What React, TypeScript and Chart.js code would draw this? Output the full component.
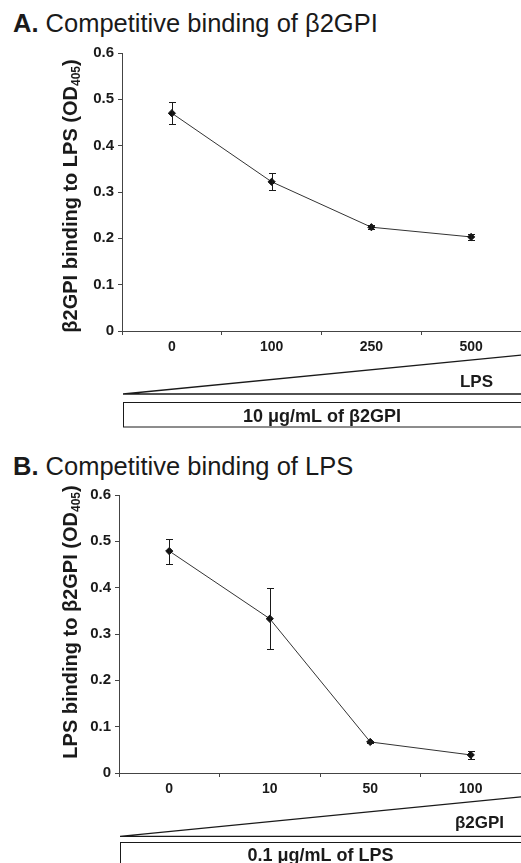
import React, { useEffect, useRef } from 'react';
import { Chart, registerables } from 'chart.js';
Chart.register(...registerables);

const FONT = '"Liberation Sans", Arial, Helvetica, sans-serif';

// Panel A: competitive binding of β2GPI (LPS added)
const catsA = ['0', '100', '250', '500'];
const valsA = [0.47, 0.322, 0.224, 0.203];
const errA = [0.024, 0.018, 0.004, 0.006];

// Panel B: competitive binding of LPS (β2GPI added)
const catsB = ['0', '10', '50', '100'];
const valsB = [0.479, 0.333, 0.067, 0.039];
const errB = [0.027, 0.066, 0.003, 0.009];

const yMin = 0;
const yMax = 0.6;
const yStep = 0.1;

const errorBarPlugin = {
  id: 'errorBars',
  afterDatasetsDraw(chart: any, _args: any, opts: any) {
    const { ctx } = chart;
    const meta = chart.getDatasetMeta(0);
    const ys = chart.scales.y;
    const errs: number[] = opts.errors || [];
    const data = chart.data.datasets[0].data as number[];
    ctx.save();
    ctx.strokeStyle = '#1a1a1a';
    ctx.lineWidth = 1;
    meta.data.forEach((pt: any, i: number) => {
      const v = data[i];
      const e = errs[i] || 0;
      const yTop = Math.round(ys.getPixelForValue(v + e)) + 0.5;
      const yBot = Math.round(ys.getPixelForValue(v - e)) + 0.5;
      const x = Math.round(pt.x) + 0.5;
      ctx.beginPath();
      ctx.moveTo(x, yTop);
      ctx.lineTo(x, yBot);
      ctx.moveTo(x - 3.5, yTop);
      ctx.lineTo(x + 3.5, yTop);
      ctx.moveTo(x - 3.5, yBot);
      ctx.lineTo(x + 3.5, yBot);
      ctx.stroke();
    });
    ctx.restore();
  },
};

const yTitlePlugin = {
  id: 'yTitleSub',
  afterDraw(chart: any, _args: any, opts: any) {
    const { ctx, chartArea } = chart;
    const cy = (chartArea.top + chartArea.bottom) / 2 + (opts.dy || 0);
    const x = opts.x;
    const mainFont = `bold ${opts.size}px ${FONT}`;
    const subFont = `bold ${Math.round(opts.size * 0.62)}px ${FONT}`;
    ctx.save();
    ctx.font = mainFont;
    const w1 = ctx.measureText(opts.main).width;
    const w3 = ctx.measureText(opts.end).width;
    ctx.font = subFont;
    const w2 = ctx.measureText(opts.sub).width;
    const total = w1 + w2 + w3;
    ctx.translate(x, cy);
    ctx.rotate(-Math.PI / 2);
    ctx.fillStyle = '#1a1a1a';
    ctx.textBaseline = 'middle';
    ctx.textAlign = 'left';
    let cx = -total / 2;
    ctx.font = mainFont;
    ctx.fillText(opts.main, cx, 0);
    cx += w1;
    ctx.font = subFont;
    ctx.fillText(opts.sub, cx, opts.size * 0.28);
    cx += w2;
    ctx.font = mainFont;
    ctx.fillText(opts.end, cx, 0);
    ctx.restore();
  },
};

const wedgePlugin = {
  id: 'wedge',
  afterDraw(chart: any, _args: any, o: any) {
    const { ctx, chartArea } = chart;
    const L = chartArea.left + 1;
    const R = chartArea.right;
    const B0 = chartArea.bottom;
    ctx.save();
    ctx.strokeStyle = '#1a1a1a';
    ctx.lineWidth = 1.3;
    ctx.beginPath();
    ctx.moveTo(L, B0 + o.base);
    ctx.lineTo(R + 2, B0 + o.tip);
    ctx.moveTo(L, B0 + o.base);
    ctx.lineTo(R + 2, B0 + o.base);
    ctx.stroke();
    ctx.fillStyle = '#1a1a1a';
    ctx.font = `bold 17px ${FONT}`;
    ctx.textAlign = 'right';
    ctx.textBaseline = 'alphabetic';
    ctx.fillText(o.label, R - o.labelRight, B0 + o.labelBase);
    ctx.lineWidth = 1;
    ctx.strokeRect(Math.round(L) + 0.5, Math.round(B0 + o.boxTop) + 0.5, R - L + 10, o.boxH);
    ctx.font = `bold 18px ${FONT}`;
    ctx.textAlign = 'center';
    ctx.fillText(o.boxText, (L + R) / 2, B0 + o.boxBase);
    ctx.restore();
  },
};

type PanelProps = {
  top: number;
  height: number;
  cats: string[];
  vals: number[];
  errs: number[];
  yWidth: number;
  xHeight: number;
  padTop: number;
  title: { main: string; sub: string; end: string; dy: number };
  wedge: any;
};

function Panel(p: PanelProps) {
  const ref = useRef<HTMLCanvasElement | null>(null);
  useEffect(() => {
    if (!ref.current) return;
    const chart = new Chart(ref.current, {
      type: 'line',
      data: {
        labels: p.cats,
        datasets: [
          {
            data: p.vals,
            borderColor: '#333333',
            borderWidth: 1,
            backgroundColor: '#111111',
            pointStyle: 'rectRot',
            pointRadius: 3.6,
            pointBackgroundColor: '#111111',
            pointBorderColor: '#111111',
            pointBorderWidth: 1,
            tension: 0,
            fill: false,
            clip: false,
          },
        ],
      },
      options: {
        responsive: false,
        animation: false,
        maintainAspectRatio: false,
        layout: { autoPadding: false, padding: { top: p.padTop, left: 0, right: 0, bottom: 0 } },
        plugins: {
          legend: { display: false },
          tooltip: { enabled: false },
          errorBars: { errors: p.errs },
          yTitleSub: { x: 71, size: 20, main: p.title.main, sub: p.title.sub, end: p.title.end, dy: p.title.dy },
          wedge: p.wedge,
        } as any,
        scales: {
          x: {
            type: 'category',
            offset: true,
            afterFit: (s: any) => {
              s.height = p.xHeight;
              s.paddingLeft = 0;
              s.paddingRight = 0;
            },
            grid: {
              display: true,
              drawOnChartArea: false,
              drawTicks: true,
              tickLength: 4,
              offset: true,
              color: '#444',
            },
            border: { display: true, color: '#444', width: 1 },
            ticks: {
              color: '#1a1a1a',
              font: { family: FONT, size: 14, weight: 'bold' },
              padding: 4,
              maxRotation: 0,
            },
          },
          y: {
            type: 'linear',
            min: yMin,
            max: yMax,
            afterFit: (s: any) => {
              s.width = p.yWidth;
            },
            grid: {
              display: true,
              drawOnChartArea: false,
              drawTicks: true,
              tickLength: 4,
              color: '#444',
            },
            border: { display: true, color: '#444', width: 1 },
            ticks: {
              stepSize: yStep,
              color: '#1a1a1a',
              font: { family: FONT, size: 15, weight: 'bold' },
              padding: 4,
              callback: (v: any) => (Number(v) === 0 ? '0' : Number(v).toFixed(1)),
            },
          },
        },
      },
      plugins: [errorBarPlugin, yTitlePlugin, wedgePlugin],
    } as any);
    return () => chart.destroy();
  }, []);
  return (
    <canvas
      ref={ref}
      width={521}
      height={p.height}
      style={{ position: 'absolute', left: 0, top: p.top, width: 521, height: p.height }}
    />
  );
}

const titleStyle: React.CSSProperties = {
  position: 'absolute',
  left: 13,
  fontFamily: FONT,
  fontSize: 25.5,
  lineHeight: '25px',
  color: '#1a1a1a',
  whiteSpace: 'nowrap',
  margin: 0,
};

export default function App() {
  useEffect(() => {
    document.body.style.margin = '0';
  }, []);
  return (
    <div style={{ position: 'fixed', left: 0, top: 0, width: 521, height: 863, background: '#fff', overflow: 'hidden' }}>
      <div style={{ ...titleStyle, top: 11 }}>
        <b>A.</b> Competitive binding of β2GPI
      </div>
      <Panel
        top={40}
        height={392}
        cats={catsA}
        vals={valsA}
        errs={errA}
        yWidth={122}
        xHeight={101}
        padTop={13}
        title={{ main: 'β2GPI binding to LPS (OD', sub: '405', end: ')', dy: 4 }}
        wedge={{ base: 63, tip: 24, label: 'LPS', labelRight: 28, labelBase: 56, boxTop: 70.5, boxH: 24.5, boxText: '10 μg/mL of β2GPI', boxBase: 90.5 }}
      />
      <div style={{ ...titleStyle, top: 454 }}>
        <b>B.</b> Competitive binding of LPS
      </div>
      <Panel
        top={482}
        height={381}
        cats={catsB}
        vals={valsB}
        errs={errB}
        yWidth={119}
        xHeight={90}
        padTop={13}
        title={{ main: 'LPS binding to β2GPI (OD', sub: '405', end: ')', dy: -12 }}
        wedge={{ base: 63.4, tip: 23.7, label: 'β2GPI', labelRight: 17, labelBase: 55, boxTop: 68.7, boxH: 40, boxText: '0.1 μg/mL of LPS', boxBase: 88 }}
      />
    </div>
  );
}
